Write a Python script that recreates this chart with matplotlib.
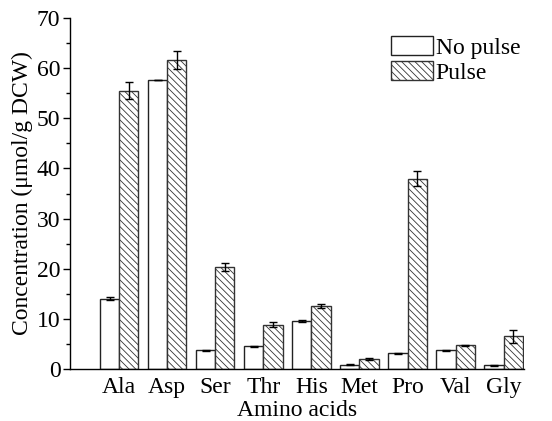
import matplotlib
matplotlib.use('Agg')
import matplotlib.pyplot as plt
import numpy as np
from matplotlib.ticker import MultipleLocator

amino = ['Ala', 'Asp', 'Ser', 'Thr', 'His', 'Met', 'Pro', 'Val', 'Gly']
no_pulse = [14.0, 57.7, 3.7, 4.5, 9.5, 0.8, 3.1, 3.7, 0.7]
no_pulse_err = [0.3, 0.0, 0.15, 0.15, 0.2, 0.1, 0.1, 0.05, 0.05]
pulse = [55.5, 61.7, 20.4, 8.8, 12.5, 2.0, 38.0, 4.7, 6.5]
pulse_err = [1.7, 1.8, 0.8, 0.5, 0.4, 0.2, 1.4, 0.1, 1.3]

plt.rcParams['font.family'] = 'serif'
plt.rcParams['font.serif'] = ['Liberation Serif']
plt.rcParams['hatch.linewidth'] = 0.6
plt.rcParams['hatch.color'] = '#555555'
FONT = 'Liberation Serif'
FS = 17

fig = plt.figure(figsize=(5.52, 4.21), dpi=100)
ax = fig.add_axes([0.127, 0.1235, 0.822, 0.8335])

x = np.arange(len(amino))
w = 0.4
ekw = dict(ecolor='black', capsize=3, elinewidth=1, capthick=1)
ax.bar(x - w/2, no_pulse, w, yerr=no_pulse_err, color='white', edgecolor='#222222',
       linewidth=1, label='No pulse', error_kw=ekw)
ax.bar(x + w/2, pulse, w, yerr=pulse_err, color='white', edgecolor='#333333',
       linewidth=1, hatch='\\\\\\\\\\', label='Pulse', error_kw=ekw)

ax.set_xlim(-1.02, 8.42)
ax.set_ylim(0, 70)
ax.set_xticks(x)
ax.set_xticklabels(amino, fontfamily=FONT, fontsize=FS)
ax.tick_params(axis='x', length=0, pad=6)
ax.yaxis.set_minor_locator(MultipleLocator(5))
ax.set_yticks(np.arange(0, 71, 10))
ax.set_yticklabels([str(v) for v in range(0, 71, 10)], fontfamily=FONT, fontsize=FS)
ax.tick_params(axis='y', which='major', length=5, width=1, pad=2)
ax.tick_params(axis='y', which='minor', length=3, width=1)
for s in ['top', 'right']:
    ax.spines[s].set_visible(False)
ax.spines['left'].set_linewidth(1)
ax.spines['bottom'].set_linewidth(1)

ax.set_xlabel('Amino acids', fontfamily=FONT, fontsize=FS, labelpad=1)
ax.set_ylabel('Concentration (μmol/g DCW)', fontfamily=FONT, fontsize=FS, labelpad=3)

ax.legend(loc='upper right', bbox_to_anchor=(1.013, 0.975), frameon=False,
          prop={'family': FONT, 'size': FS},
          handlelength=1.8, handleheight=0.85, handletextpad=0.1, labelspacing=0.1,
          borderaxespad=0)

fig.savefig('out.png', dpi=100)
